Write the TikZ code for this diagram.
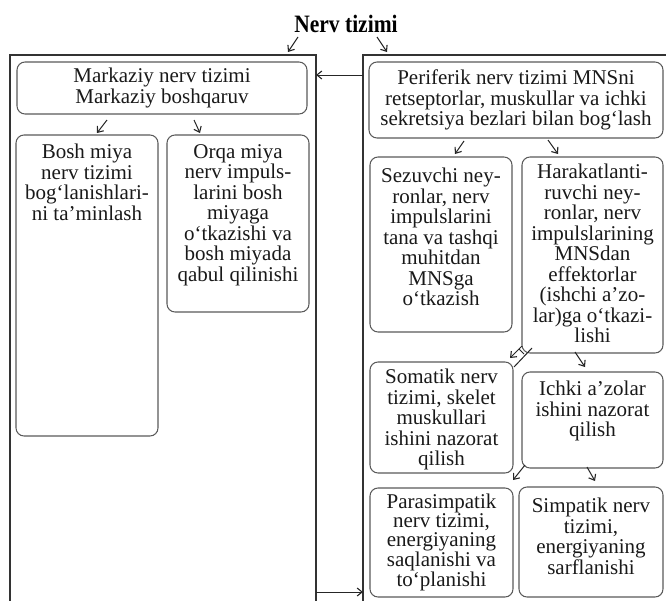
\documentclass[tikz,border=0pt]{standalone}
\usepackage{fontspec}
\setmainfont{Liberation Serif}
\usepackage{graphicx}
\usetikzlibrary{arrows.meta}
\begin{document}
\begin{tikzpicture}[x=1pt,y=-1pt,
  outerbox/.style={draw=black!80, line width=1.2pt, inner sep=0pt, outer sep=0pt, anchor=north west},
  rbox/.style={draw=black!65, line width=1.05pt, rounded corners=8pt, inner sep=0pt, outer sep=0pt},
  txt/.style={font=\fontsize{21}{20.5}\selectfont, align=center, inner sep=0pt, text=black!90},
  arr/.style={draw=black!85, line width=1pt, -{Straight Barb[length=5pt,width=8pt,line width=1.1pt]}},
  tickline/.style={draw=black!85, line width=1pt},
]
\useasboundingbox (0,0) rectangle (666,600);
\clip (0,0) rectangle (666,600);

% title
\node[font=\bfseries\fontsize{25}{25}\selectfont, anchor=base, inner sep=0pt] (title) at (346,32) {\scalebox{0.86}[1]{Nerv tizimi}};

% outer boxes
\node[outerbox, minimum width=306pt, minimum height=580pt] (L) at (10,55) {};
\node[outerbox, minimum width=340pt, minimum height=580pt] (R) at (363,55) {};

% inner boxes
\node[rbox, minimum width=290pt, minimum height=52pt] (mk) at (162,88) {};
\node[rbox, minimum width=142pt, minimum height=301pt] (bosh) at (87,285.5) {};
\node[rbox, minimum width=142pt, minimum height=177pt] (orqa) at (238,223.5) {};
\node[rbox, minimum width=294pt, minimum height=76pt] (peri) at (516,100) {};
\node[rbox, minimum width=142pt, minimum height=175pt] (sez) at (441,244.5) {};
\node[rbox, minimum width=141pt, minimum height=196pt] (hara) at (592.5,255) {};
\node[rbox, minimum width=143pt, minimum height=111pt] (som) at (441.5,417.5) {};
\node[rbox, minimum width=141pt, minimum height=96pt] (ichki) at (592.5,420) {};
\node[rbox, minimum width=143pt, minimum height=109pt] (para) at (441.5,542.5) {};
\node[rbox, minimum width=144pt, minimum height=110pt] (simp) at (591,542) {};

% texts
\node[txt] (tmk) at (mk.center) {Markaziy nerv tizimi\\Markaziy boshqaruv};
\node[txt] (tperi) at (peri.center) {Periferik nerv tizimi MNSni\\retseptorlar, muskullar va ichki\\sekretsiya bezlari bilan bog‘lash};
\node[txt, anchor=north] (tbosh) at ([yshift=-9pt]bosh.north) {Bosh miya\\nerv tizimi\\bog‘lanishlari-\\ni ta’minlash};
\node[txt, anchor=north] (torqa) at ([yshift=-9pt]orqa.north) {Orqa miya\\nerv impuls-\\larini bosh\\miyaga\\o‘tkazishi va\\bosh miyada\\qabul qilinishi};
\node[txt, anchor=north] (tsez) at ([yshift=-11pt]sez.north) {Sezuvchi ney-\\ronlar, nerv\\impulslarini\\tana va tashqi\\muhitdan\\MNSga\\o‘tkazish};
\node[txt, anchor=north] (thara) at ([yshift=-7pt]hara.north) {Harakatlanti-\\ruvchi ney-\\ronlar, nerv\\impulslarining\\MNSdan\\effektorlar\\(ishchi a’zo-\\lar)ga o‘tkazi-\\lishi};
\node[txt, anchor=north] (tsom) at ([yshift=-7pt]som.north) {Somatik nerv\\tizimi, skelet\\muskullari\\ishini nazorat\\qilish};
\node[txt, anchor=north] (tichki) at ([yshift=-9pt]ichki.north) {Ichki a’zolar\\ishini nazorat\\qilish};
\node[txt, anchor=north, font=\fontsize{21}{19}\selectfont] (tpara) at ([yshift=-6pt]para.north) {Parasimpatik\\nerv tizimi,\\energiyaning\\saqlanishi va\\to‘planishi};
\node[txt, anchor=north] (tsimp) at ([yshift=-11pt]simp.north) {Simpatik nerv\\tizimi,\\energiyaning\\sarflanishi};

% connectors between outer boxes
\draw[arr] (R.west |- 0,75) -- (L.east |- 0,75);
\draw[arr] (L.east |- 0,592) -- (R.west |- 0,592);

% short arrows
\coordinate (a1s) at (298,37); \coordinate (a1e) at (288,52);
\coordinate (a2s) at (377,37); \coordinate (a2e) at (387,52);
\draw[arr] (a1s) -- (a1e);
\draw[arr] (a2s) -- (a2e);

\coordinate (b1s) at (107,120); \coordinate (b1e) at (97,133);
\coordinate (b2s) at (194,120); \coordinate (b2e) at (200,133);
\draw[arr] (b1s) -- (b1e);
\draw[arr] (b2s) -- (b2e);

\coordinate (c1s) at (464,141); \coordinate (c1e) at (455,154);
\coordinate (c2s) at (548,140); \coordinate (c2e) at (558,154);
\draw[arr] (c1s) -- (c1e);
\draw[arr] (c2s) -- (c2e);

\coordinate (d1s) at (522,346); \coordinate (d1e) at (510,358);
\coordinate (d2s) at (575,352); \coordinate (d2e) at (585,367);
\draw[arr] (d1s) -- (d1e);
\draw[arr] (d2s) -- (d2e);
\coordinate (m1) at (532,348); \coordinate (m2) at (514,367);
\coordinate (m3) at (519,349); \coordinate (m4) at (524,354);
\draw[tickline] (m1) -- (m2);
\draw[tickline] (m3) -- (m4);

\coordinate (e1s) at (525,465); \coordinate (e1e) at (513,480);
\coordinate (e2s) at (587,467); \coordinate (e2e) at (595,481);
\draw[arr] (e1s) -- (e1e);
\draw[arr] (e2s) -- (e2e);
\end{tikzpicture}
\end{document}
